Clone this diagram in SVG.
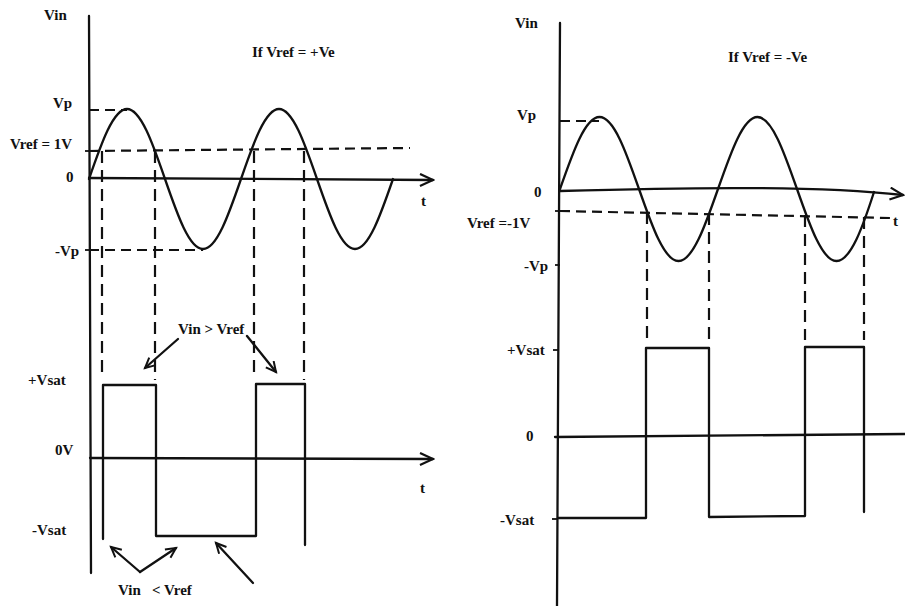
<svg xmlns="http://www.w3.org/2000/svg" width="905" height="606" viewBox="0 0 905 606">
<style>
.ln{stroke:#111;stroke-width:2.3;fill:none;stroke-linecap:round;stroke-linejoin:round}
.ds{stroke:#111;stroke-width:2.2;fill:none;stroke-dasharray:10 6}
.dv{stroke:#111;stroke-width:2.2;fill:none;stroke-dasharray:12 7}
.tk{stroke:#111;stroke-width:1.8}
.t{font-family:"Liberation Serif","Times New Roman",serif;font-weight:bold;font-size:15px;fill:#111}
</style>
<defs>
<marker id="ax" markerUnits="userSpaceOnUse" markerWidth="16" markerHeight="16" refX="14" refY="7" orient="auto">
<path d="M1,1 L14,7 L1,13" fill="none" stroke="#111" stroke-width="2.2"/>
</marker>
<marker id="ah" markerUnits="userSpaceOnUse" markerWidth="14" markerHeight="14" refX="11" refY="6" orient="auto">
<path d="M1,1 L11,6 L1,11" fill="none" stroke="#111" stroke-width="2"/>
</marker>
</defs>
<rect width="905" height="606" fill="#fff"/>

<g id="left-input">
<line class="ln" x1="89" y1="16" x2="91" y2="573"/>
<line class="ln" x1="89" y1="178" x2="433" y2="180" marker-end="url(#ax)"/>
<line class="ds" x1="89" y1="110" x2="127" y2="110"/>
<line class="ds" x1="89" y1="151" x2="410" y2="148"/>
<line class="ds" x1="89" y1="250" x2="203" y2="250"/>
<line class="tk" x1="85" y1="151" x2="89" y2="151"/>
<line class="tk" x1="85" y1="250" x2="89" y2="250"/>
<path class="ln" d="M89,179 C101.4,143.1 113.3,109 127,109 S152.6,143.1 165,179 S189.3,249 203,249 S228.6,214.9 241,179 S265.3,109 279,109 S304.6,143.1 317,179 S341.3,249 355,249 S380.6,214.9 393,179"/>
<line class="dv" x1="102" y1="151" x2="102" y2="376"/>
<line class="dv" x1="155" y1="151" x2="155" y2="380"/>
<line class="dv" x1="254" y1="151" x2="254" y2="376"/>
<line class="dv" x1="304" y1="151" x2="304" y2="380"/>
<text class="t" x="44" y="20">Vin</text>
<text class="t" x="252" y="57">If Vref = +Ve</text>
<text class="t" x="53" y="108">Vp</text>
<text class="t" x="10" y="149">Vref = 1V</text>
<text class="t" x="66" y="182">0</text>
<text class="t" x="55" y="256">-Vp</text>
<text class="t" x="421" y="206">t</text>
</g>

<g id="left-output">
<line class="ln" x1="90" y1="458" x2="433" y2="459" marker-end="url(#ax)"/>
<polyline class="ln" points="103,539 103,385 156,385 156,536 256,536 256,384 305,384 305,545"/>
<text class="t" x="28" y="385">+Vsat</text>
<text class="t" x="55" y="455">0V</text>
<text class="t" x="32" y="535">-Vsat</text>
<text class="t" x="420" y="493">t</text>
</g>

<g id="label-vin-gt-vref">
<text class="t" x="178" y="334">Vin &gt; Vref</text>
</g>
<g id="label-vin-lt-vref">
<text class="t" x="118" y="595">Vin<tspan x="152">&lt; Vref</tspan></text>
</g>

<g id="right-input">
<line class="ln" x1="560" y1="23" x2="557" y2="606"/>
<path class="ln" d="M560,191 C700,187 820,186 903,195" marker-end="url(#ax)"/>
<line class="ds" x1="560" y1="121" x2="599" y2="121"/>
<line class="ds" x1="560" y1="211" x2="890" y2="218"/>
<line class="tk" x1="560" y1="121" x2="566" y2="121"/>
<line class="tk" x1="555" y1="211" x2="560" y2="211"/>
<line class="tk" x1="555" y1="265" x2="560" y2="265"/>
<path class="ln" d="M560,189 C572.9,152.1 585.2,117 599.5,117 S626.1,152.1 639,189 S664.2,261 678.5,261 S705.1,225.9 718,189 S743.2,117 757.5,117 S784.1,152.1 797,189 S822.2,261 836.5,261 S863.1,225.9 874,192"/>
<line class="dv" x1="647" y1="212" x2="647" y2="342"/>
<line class="dv" x1="709" y1="213" x2="709" y2="342"/>
<line class="dv" x1="805" y1="215" x2="805" y2="340"/>
<line class="dv" x1="864" y1="217" x2="864" y2="340"/>
<text class="t" x="515" y="28">Vin</text>
<text class="t" x="728" y="62">If Vref = -Ve</text>
<text class="t" x="517" y="120">Vp</text>
<text class="t" x="534" y="197">0</text>
<text class="t" x="467" y="228">Vref =-1V</text>
<text class="t" x="524" y="271">-Vp</text>
<text class="t" x="893" y="226">t</text>
</g>

<g id="right-output">
<line class="ln" x1="555" y1="437" x2="905" y2="434"/>
<polyline class="ln" points="558,518 646,518 646,348 709,348 709,517 805,516 805,347 864,347 864,512"/>
<line class="tk" x1="553" y1="350" x2="558" y2="350"/>
<line class="tk" x1="552" y1="519" x2="558" y2="519"/>
<text class="t" x="507" y="355">+Vsat</text>
<text class="t" x="526" y="441">0</text>
<text class="t" x="500" y="525">-Vsat</text>
</g>

<g id="connectors">
<line class="ln" x1="178" y1="339" x2="145" y2="368" marker-end="url(#ah)"/>
<line class="ln" x1="247" y1="336" x2="276" y2="372" marker-end="url(#ah)"/>
<line class="ln" x1="140" y1="572" x2="111" y2="547" marker-end="url(#ah)"/>
<line class="ln" x1="140" y1="572" x2="176" y2="548" marker-end="url(#ah)"/>
<line class="ln" x1="253" y1="583" x2="216" y2="543" marker-end="url(#ah)"/>
</g>
</svg>
